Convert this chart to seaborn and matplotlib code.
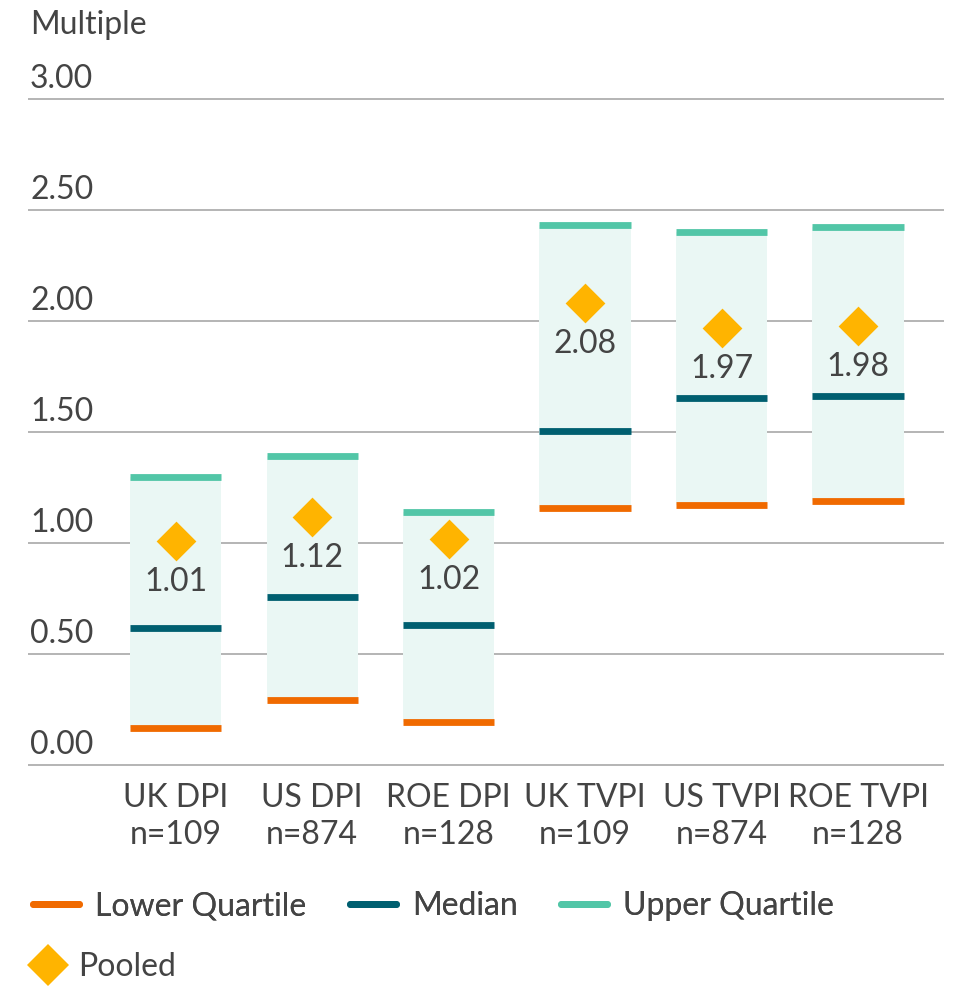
import numpy as np
import pandas as pd
import matplotlib
matplotlib.use("Agg")
import matplotlib.pyplot as plt
import seaborn as sns
from matplotlib.lines import Line2D

categories = ["UK DPI", "US DPI", "ROE DPI", "UK TVPI", "US TVPI", "ROE TVPI"]
n_counts = [109, 874, 128, 109, 874, 128]
lower_q = [0.167, 0.293, 0.196, 1.158, 1.173, 1.188]
median_v = [0.617, 0.759, 0.633, 1.505, 1.655, 1.665]
upper_q = [1.299, 1.394, 1.142, 2.434, 2.401, 2.422]
pooled = [1.01, 1.12, 1.02, 2.08, 1.97, 1.98]
yticks = [0.0, 0.5, 1.0, 1.5, 2.0, 2.5, 3.0]

C_LOW = "#f06a00"
C_MED = "#005f70"
C_UP = "#52c6a7"
C_FILL = "#eaf7f4"
C_POOL = "#ffb400"
C_TXT = "#444444"
C_GRID = "#a0a0a0"

sns.set_theme(style="white")
plt.rcParams["font.family"] = ["Lato", "DejaVu Sans"]
plt.rcParams["font.weight"] = "normal"
FS = 23

labels = [f"{c}\nn={n}" for c, n in zip(categories, n_counts)]
df = pd.DataFrame({"label": labels, "lower": lower_q, "median": median_v,
                   "upper": upper_q, "pooled": pooled})

W, H = 957, 986
fig = plt.figure(figsize=(W / 100, H / 100), dpi=100)
ymin, ymax = -0.01, 3.01
ppu = 222.0
ax_bottom_px = 765.3 + 0.01 * ppu
ax_top_px = 99.0 - 0.01 * ppu
ax = fig.add_axes([28 / W, 1 - ax_bottom_px / H, (944 - 28) / W, (ax_bottom_px - ax_top_px) / H])

# pooled diamonds via seaborn (sets categorical axis)
sns.scatterplot(data=df, x="label", y="pooled", marker="D", s=410, color=C_POOL,
                linewidth=0, ax=ax, zorder=5)

xs = np.arange(len(labels))
bw = 0.67
lo = np.array(lower_q)
up = np.array(upper_q)
ax.bar(xs, up - lo, bottom=lo, width=bw, color=C_FILL, zorder=2, linewidth=0)
lw = 4.9
ax.hlines(lower_q, xs - bw / 2, xs + bw / 2, color=C_LOW, linewidth=lw, zorder=3)
ax.hlines(median_v, xs - bw / 2, xs + bw / 2, color=C_MED, linewidth=lw, zorder=3)
ax.hlines(upper_q, xs - bw / 2, xs + bw / 2, color=C_UP, linewidth=lw, zorder=3)

for x, p in zip(xs, pooled):
    ax.annotate(f"{p:.2f}", xy=(x, p), xytext=(0, -50), textcoords="offset pixels",
                ha="center", va="baseline", fontsize=FS, color=C_TXT, zorder=6)

# grid
for t in yticks:
    ax.axhline(t, color=C_GRID, linewidth=1.1, zorder=1)
    ax.annotate(f"{t:.2f}", xy=(0, t), xycoords=ax.get_yaxis_transform(),
                xytext=(2, 11), textcoords="offset pixels", ha="left", va="baseline",
                fontsize=FS, color=C_TXT)

ax.set_xlim(-1.083, 5.63)
ax.set_ylim(ymin, ymax)
ax.set_yticks([])
ax.set_xlabel("")
ax.set_ylabel("")
ax.tick_params(axis="x", length=0, pad=11, labelsize=FS, labelcolor=C_TXT)
ax.set_xticks(xs)
ax.set_xticklabels(labels, linespacing=1.28)
for s in ax.spines.values():
    s.set_visible(False)
ax.patch.set_alpha(0)

fig.text(30 / W, 1 - 34 / H, "Multiple", fontsize=FS, color=C_TXT, ha="left", va="baseline")

# legends
h_lines = [Line2D([], [], color=c, linewidth=5, solid_capstyle="round")
           for c in (C_LOW, C_MED, C_UP)]
leg1 = fig.legend(h_lines, ["Lower Quartile", "Median", "Upper Quartile"], ncol=3,
                  loc="upper left", bbox_to_anchor=(33 / W, 1 - 891 / H), frameon=False,
                  fontsize=FS, labelcolor=C_TXT, handlelength=1.45, handletextpad=0.5,
                  columnspacing=1.35, borderpad=0, borderaxespad=0)
h_pool = [Line2D([], [], color=C_POOL, marker="D", markersize=21, linestyle="none",
                 markeredgewidth=0)]
leg2 = fig.legend(h_pool, ["Pooled"], loc="upper left", bbox_to_anchor=(30 / W, 1 - 952 / H),
                  frameon=False, fontsize=FS, labelcolor=C_TXT, handlelength=1.15,
                  handletextpad=0.35, borderpad=0, borderaxespad=0)
fig.add_artist(leg1)

fig.savefig("out.png", dpi=100)
